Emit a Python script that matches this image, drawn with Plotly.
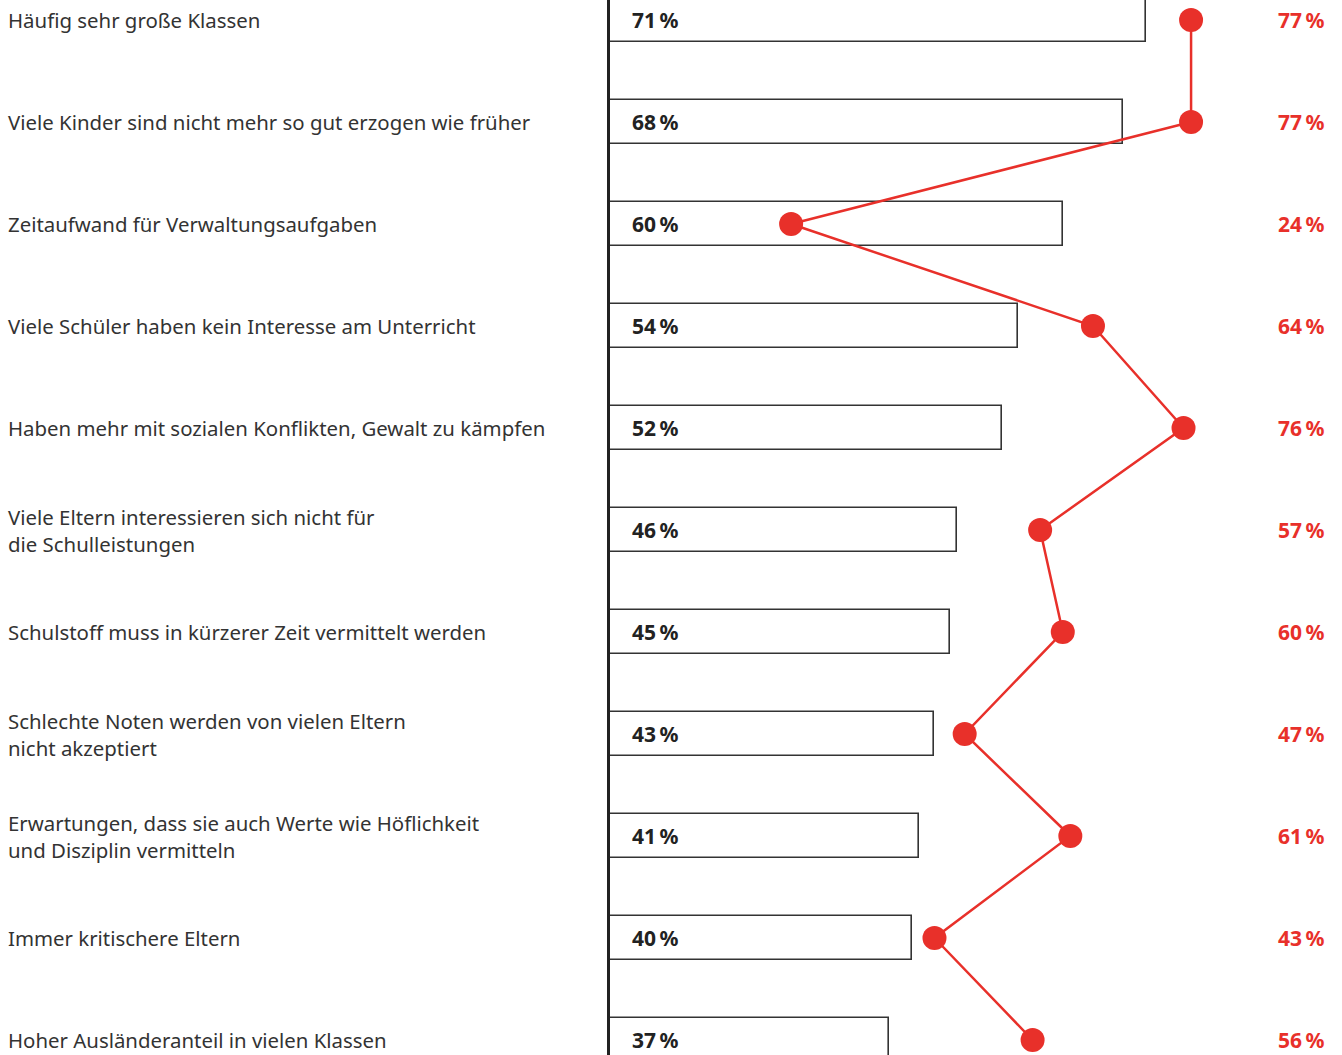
import plotly.graph_objects as go

categories = [
    "Häufig sehr große Klassen",
    "Viele Kinder sind nicht mehr so gut erzogen wie früher",
    "Zeitaufwand für Verwaltungsaufgaben",
    "Viele Schüler haben kein Interesse am Unterricht",
    "Haben mehr mit sozialen Konflikten, Gewalt zu kämpfen",
    "Viele Eltern interessieren sich nicht für<br>die Schulleistungen",
    "Schulstoff muss in kürzerer Zeit vermittelt werden",
    "Schlechte Noten werden von vielen Eltern<br>nicht akzeptiert",
    "Erwartungen, dass sie auch Werte wie Höflichkeit<br>und Disziplin vermitteln",
    "Immer kritischere Eltern",
    "Hoher Ausländeranteil in vielen Klassen",
]
bar_values = [71, 68, 60, 54, 52, 46, 45, 43, 41, 40, 37]
dot_values = [77, 77, 24, 64, 76, 57, 60, 47, 61, 43, 56]

RED = "#e8302a"
FONT = "Noto Sans"
positions = list(range(len(categories)))

fig = go.Figure()
fig.add_trace(go.Bar(
    x=bar_values, y=positions, orientation="h", width=0.431,
    marker=dict(color="white", line=dict(color="#333333", width=1.6)),
    hoverinfo="skip", showlegend=False,
))
fig.add_trace(go.Scatter(
    x=dot_values, y=positions, mode="lines+markers",
    line=dict(color=RED, width=2.5),
    marker=dict(color=RED, size=24),
    cliponaxis=False, showlegend=False, hoverinfo="skip",
))

annotations = []
for i, (cat, b, d) in enumerate(zip(categories, bar_values, dot_values)):
    annotations.append(dict(
        x=-0.8251, xref="paper", y=i, yref="y", text=cat, showarrow=False,
        xanchor="left", yanchor="middle", align="left",
        font=dict(family=FONT, size=20.4, color="#333333"),
    ))
    annotations.append(dict(
        x=2.66, xref="x", y=i, yref="y", text=f"<b>{b}\u2009%</b>", showarrow=False,
        xanchor="left", yanchor="middle",
        font=dict(family=FONT, size=21, color="#222222"),
    ))
    annotations.append(dict(
        x=0.9795, xref="paper", y=i, yref="y", text=f"<b>{d}\u2009%</b>", showarrow=False,
        xanchor="right", yanchor="middle",
        font=dict(family=FONT, size=21, color=RED),
    ))

fig.update_layout(
    width=1342, height=1055,
    margin=dict(l=610, r=0, t=0, b=0),
    paper_bgcolor="white", plot_bgcolor="white",
    xaxis=dict(range=[0, 97.0], showgrid=False, zeroline=False, showticklabels=False,
               showline=False, fixedrange=True),
    yaxis=dict(range=[10.147, -0.196], showgrid=False, zeroline=False,
               showticklabels=False, showline=True, linecolor="#222222", linewidth=3,
               fixedrange=True),
    annotations=annotations,
    bargap=0,
)

fig.write_html(
    "out.html",
    config={"displayModeBar": False},
    post_script="document.body.style.margin='0';document.body.style.overflow='hidden';",
)
